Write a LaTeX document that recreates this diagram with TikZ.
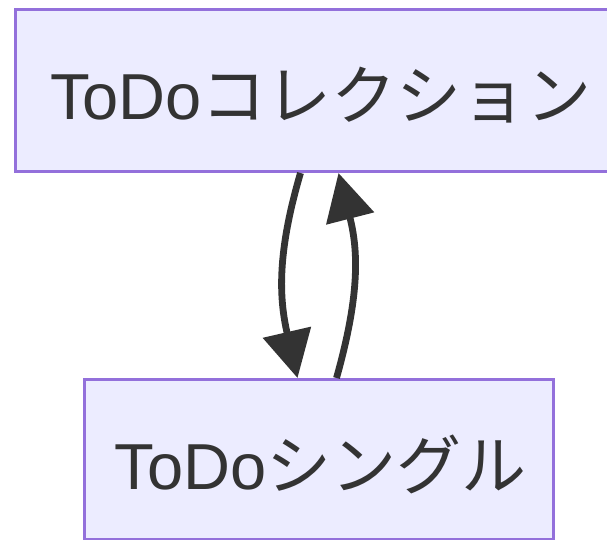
\documentclass[tikz,border=0pt]{standalone}
\usepackage{fontspec}
\setmainfont{Liberation Sans}
\newfontfamily\cjk{Noto Sans CJK JP}
\usetikzlibrary{arrows.meta}
\definecolor{boxfill}{HTML}{ECECFF}
\definecolor{boxline}{HTML}{9370DB}
\definecolor{ink}{HTML}{333333}
\tikzset{
  mbox/.style={draw=boxline, fill=boxfill, line width=3pt, inner sep=0pt,
    text=ink, font=\fontsize{65}{78}\selectfont, anchor=north west},
  link/.style={draw=ink, line width=6.8pt, -{Triangle[length=47pt,width=48pt]}},
}
\begin{document}
\begin{tikzpicture}[x=1pt,y=-1pt]
\clip (0,0) rectangle (607,540);
\fill[white] (0,0) rectangle (607,540);
\node[mbox, minimum width=607pt, minimum height=162pt] (top) at (14,8) {};
\node[text=ink, font=\fontsize{65}{78}\selectfont, inner sep=0pt, anchor=base] (toptext) at (321,120) {ToDo{\cjk コレクション}};
\node[mbox, minimum width=469pt, minimum height=160pt] (bot) at (83,378) {};
\node[text=ink, font=\fontsize{65}{78}\selectfont, inner sep=0pt, anchor=base] (bottext) at (320.5,489) {ToDo{\cjk シングル}};
\draw[link] ([xshift=-18.5pt]top.south) .. controls ([xshift=-42pt,yshift=-80pt]top.south) and ([xshift=-40pt,yshift=80pt]bot.north) .. ([xshift=-21.5pt]bot.north);
\draw[link] ([xshift=17.5pt]bot.north) .. controls ([xshift=40pt,yshift=80pt]bot.north) and ([xshift=40pt,yshift=-80pt]top.south) .. ([xshift=19.5pt]top.south);
\end{tikzpicture}
\end{document}
